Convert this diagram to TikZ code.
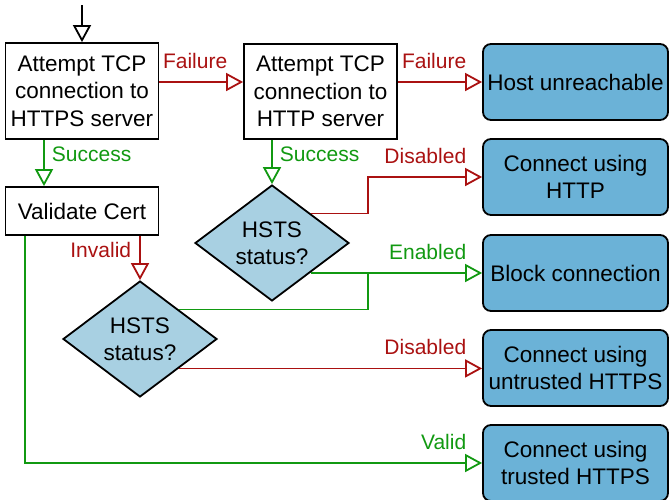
\documentclass[tikz,border=0pt]{standalone}
\usepackage{fontspec}
\setmainfont{Liberation Sans}
\usetikzlibrary{shapes.geometric, arrows.meta}
\definecolor{nored}{RGB}{170,17,17}
\definecolor{yesgreen}{RGB}{17,153,17}
\definecolor{diamblue}{RGB}{168,208,226}
\definecolor{endblue}{RGB}{107,178,215}
\begin{document}
\begin{tikzpicture}[x=1pt, y=-1pt, font=\fontsize{22.5}{27.5}\selectfont,
		box/.style={draw, line width=1.8pt, inner sep=0pt, minimum width=153pt, align=center},
		diam/.style={diamond, draw, line width=1.8pt, fill=diamblue, inner sep=0pt, minimum width=154pt, minimum height=113pt, align=center},
		res/.style={draw, line width=1.8pt, rounded corners=8pt, fill=endblue, inner sep=0pt, minimum width=185pt, minimum height=76pt, align=center},
		con/.style={line width=1.8pt, -{Triangle[length=17pt, width=18pt, fill=white]}},
		yes/.style={con, draw=yesgreen, text=yesgreen},
		no/.style={con, draw=nored, text=nored},
		lbl/.style={font=\fontsize{21}{25}\selectfont, anchor=base east, inner sep=0pt, xshift=-15pt, yshift=14pt},
		side/.style={font=\fontsize{21}{25}\selectfont, pos=0, inner sep=0pt, yshift=-22pt}]
			\useasboundingbox (0,0) rectangle (669,499);
			\draw node[box, minimum height=96pt] (1) at (82,91) {Attempt TCP\\connection to\\HTTPS server};
			\draw node[box, minimum height=95pt] (2) at (320.5,91.5) {Attempt TCP\\connection to\\HTTP server};
			\draw node[box, minimum height=48pt] (3) at (82,211) {Validate Cert};
			\draw node[res] (4) at (575.5,82) {Host unreachable};
			\draw node[res] (5) at (575.5,177) {Connect using\\HTTP};
			\draw node[res] (6) at (575.5,273) {Block connection};
			\draw node[res] (7) at (575.5,368) {Connect using\\untrusted HTTPS};
			\draw node[res] (8) at (575.5,463) {Connect using\\trusted HTTPS};
			\draw node[diam] (9) at (272,243) {HSTS\\status?};
			\draw node[diam] (10) at (140,339) {HSTS\\status?};
			\coordinate (11) at (82,5);
			\coordinate (12) at (368,273);

			\draw[con] (11) -- (1);
			\draw[no] (1.east |- 4) -- (2.west |- 4) node[lbl] {Failure};
			\draw[no] (2.east |- 4) -- (4.west) node[lbl] {Failure};
			\draw[yes] ([xshift=-38pt]1.south) -- node[side, anchor=base west, xshift=7pt] {Success} ([xshift=-38pt]3.north);
			\draw[yes] (2.south -| 9.north) -- node[side, anchor=base west, xshift=7pt] {Success} (9.north);
			\draw[no] (3.south -| 10.north) -- node[side, anchor=base east, xshift=-8pt] {Invalid} (10.north);
			\draw[no] (9.north east) -- ++(57,0) |- (5.west) node[lbl] {Disabled};
			\draw[yes] (9.south east |- 6.west) -- (6.west) node[lbl] {Enabled};
			\draw[yes, -] (10.north east) -| (12);
			\draw[no] (10.south east) -- (10.south east -| 7.west) node[lbl] {Disabled};
			\draw[yes] ([xshift=-57pt]3.south) |- (8.west) node[lbl] {Valid};
		\end{tikzpicture}
\end{document}
